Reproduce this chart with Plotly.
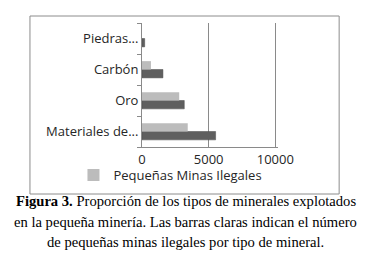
import plotly.graph_objects as go

categories = ["Materiales de...", "Oro", "Carbón", "Piedras..."]
total_minas = [5520, 3170, 1570, 200]
minas_ilegales = [3430, 2790, 670, 0]
x_ticks = [0, 5000, 10000]

W, H = 367, 259
def px(x): return x / W
def py(y): return (H - y) / H

fig = go.Figure()
fig.add_trace(go.Bar(y=categories, x=total_minas, orientation="h",
                     name="Pequeñas Minas", showlegend=False,
                     marker=dict(color="#5f5f5f", line=dict(color="#4a4a4a", width=0.5))))
fig.add_trace(go.Bar(y=categories, x=minas_ilegales, orientation="h",
                     name="Pequeñas Minas Ilegales",
                     marker=dict(color="#bcbcbc", line=dict(width=0))))

font_axis = dict(family="Open Sans", size=13, color="#262626")

caption_lines = [
    "<b>Figura 3.</b> Proporción de los tipos de minerales explotados",
    "en la pequeña minería. Las barras claras indican el número",
    "de pequeñas minas ilegales por tipo de mineral.",
]
caption_y = [193, 213.5, 234]

annotations = [
    dict(xref="paper", yref="paper", x=0.5, y=py(yc), xanchor="center", yanchor="middle",
         showarrow=False, text=t,
         font=dict(family="Liberation Serif", size=14.6, color="black"))
    for t, yc in zip(caption_lines, caption_y)
]

# 14.1 px per 1000 units; range extended slightly so the 10000 gridline is drawn
x_max = 10200
fig.update_layout(
    width=W, height=H,
    margin=dict(l=0, r=0, t=0, b=0),
    paper_bgcolor="white", plot_bgcolor="white",
    barmode="group", bargap=0.46, bargroupgap=0,
    xaxis=dict(domain=[px(137.5), px(137.5 + 0.0141 * x_max)], range=[0, x_max],
               tickvals=x_ticks, ticktext=[str(v) for v in x_ticks],
               showgrid=True, gridcolor="#8a8a8a", gridwidth=1,
               showline=True, linecolor="#8a8a8a", linewidth=1,
               zeroline=False, ticks="", tickfont=font_axis),
    yaxis=dict(domain=[py(139), py(15)], type="category",
               categoryorder="array", categoryarray=categories,
               showline=True, linecolor="#8a8a8a", linewidth=1,
               ticks="outside", tickson="boundaries", ticklen=4,
               tickcolor="#8a8a8a", showgrid=False, zeroline=False,
               tickfont=font_axis),
    legend=dict(orientation="h", x=px(65), y=py(152), xanchor="left", yanchor="top",
                font=dict(family="Open Sans", size=13, color="#262626"),
                bgcolor="rgba(0,0,0,0)", itemwidth=30),
    font=dict(family="Open Sans"),
    shapes=[dict(type="rect", xref="paper", yref="paper",
                 x0=px(19), x1=px(346), y0=py(186), y1=py(8),
                 line=dict(color="#8c8c8c", width=1))],
    annotations=annotations,
)

fig.write_html("out.html")
